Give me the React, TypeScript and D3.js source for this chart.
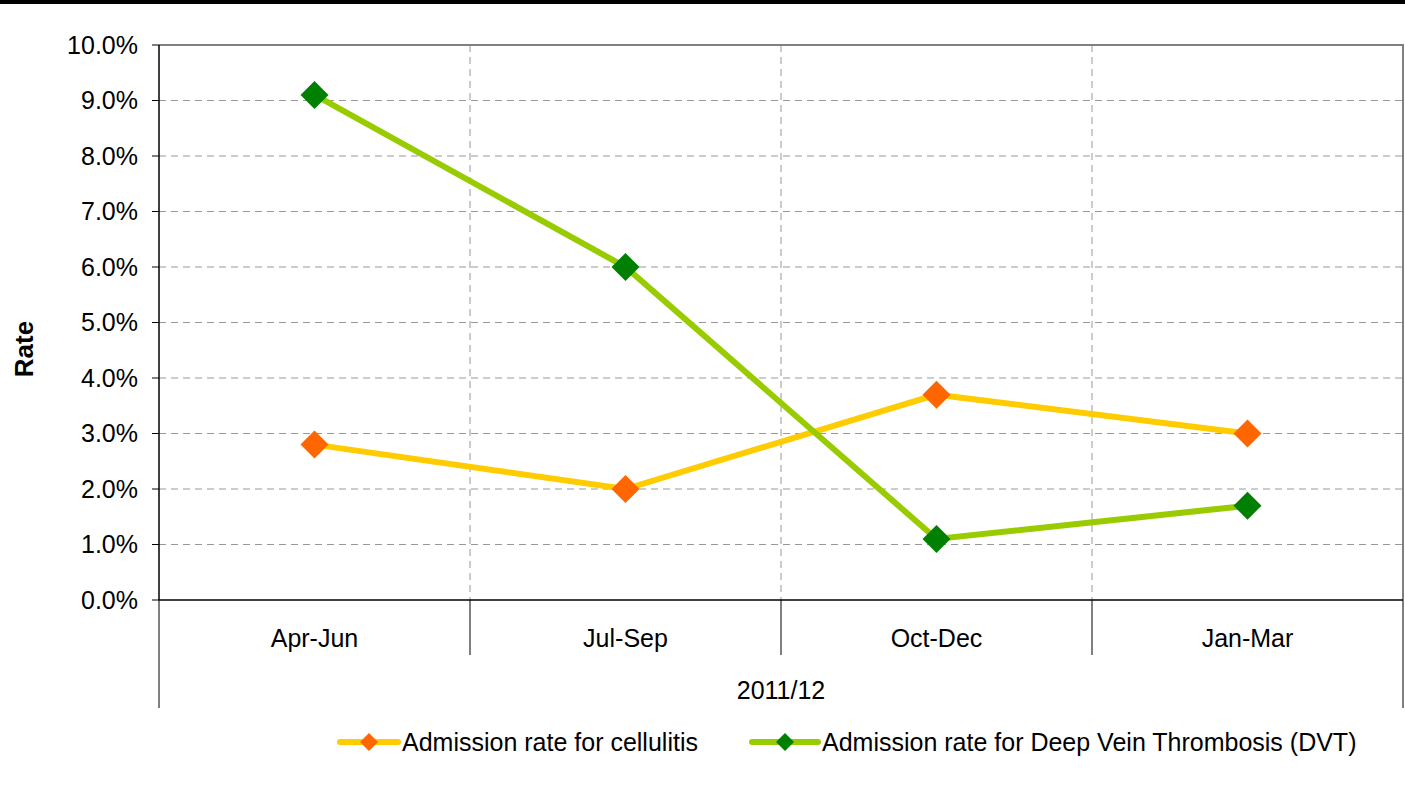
import { useEffect, useRef } from 'react';
import * as d3 from 'd3';

const categories = ['Apr-Jun', 'Jul-Sep', 'Oct-Dec', 'Jan-Mar'];
const groupLabel = '2011/12';
const cellulitis = [2.8, 2.0, 3.7, 3.0];
const dvt = [9.1, 6.0, 1.1, 1.7];
const yTicks = [0, 1, 2, 3, 4, 5, 6, 7, 8, 9, 10];

const series = [
  { name: 'Admission rate for cellulitis', values: cellulitis, line: '#FFCC00', marker: '#FF6600' },
  { name: 'Admission rate for Deep Vein Thrombosis (DVT)', values: dvt, line: '#99CC00', marker: '#008000' }
];

const App = () => {
  const ref = useRef<SVGSVGElement>(null);

  useEffect(() => {
    const svg = d3.select(ref.current);
    svg.selectAll('*').remove();

    const left = 159, right = 1403, top = 45, bottom = 600;
    const font = 'Arial, "Liberation Sans", sans-serif';
    const fs = 25;

    // top black strip
    svg.append('rect').attr('x', 0).attr('y', 0).attr('width', 1405).attr('height', 4).attr('fill', '#000');

    const x = d3.scaleBand().domain(categories).range([left, right]);
    const y = d3.scaleLinear().domain([0, 10]).range([bottom, top]);

    // horizontal grid
    svg.append('g').selectAll('line').data(yTicks.slice(1, -1)).join('line')
      .attr('x1', left).attr('x2', right)
      .attr('y1', d => y(d)).attr('y2', d => y(d))
      .attr('stroke', '#999').attr('stroke-dasharray', '7,5');

    // vertical grid at category boundaries
    svg.append('g').selectAll('line').data(categories.slice(1)).join('line')
      .attr('x1', d => x(d)!).attr('x2', d => x(d)!)
      .attr('y1', top).attr('y2', bottom)
      .attr('stroke', '#999').attr('stroke-dasharray', '7,5');

    // plot border (top & right gray)
    svg.append('path')
      .attr('d', `M${left},${top}H${right}V${bottom}`)
      .attr('fill', 'none').attr('stroke', '#808080').attr('stroke-width', 2);

    // y axis
    svg.append('line').attr('x1', left).attr('x2', left).attr('y1', top).attr('y2', bottom)
      .attr('stroke', '#000').attr('stroke-width', 1.5);
    svg.append('g').selectAll('line').data(yTicks).join('line')
      .attr('x1', left - 7).attr('x2', left)
      .attr('y1', d => y(d)).attr('y2', d => y(d))
      .attr('stroke', '#000');
    svg.append('g').selectAll('text').data(yTicks).join('text')
      .attr('x', left - 21).attr('y', d => y(d))
      .attr('dy', '0.35em').attr('text-anchor', 'end')
      .attr('font-family', font).attr('font-size', fs)
      .text(d => d.toFixed(1) + '%');

    svg.append('text')
      .attr('transform', `translate(33,${349}) rotate(-90)`)
      .attr('text-anchor', 'middle')
      .attr('font-family', font).attr('font-size', 26).attr('font-weight', 'bold')
      .text('Rate');

    // x axis
    svg.append('line').attr('x1', left).attr('x2', right).attr('y1', bottom).attr('y2', bottom)
      .attr('stroke', '#000').attr('stroke-width', 1.5);
    const bounds = [...categories.map(c => x(c)!), right];
    svg.append('g').selectAll('line').data(bounds).join('line')
      .attr('x1', d => d).attr('x2', d => d)
      .attr('y1', bottom)
      .attr('y2', (d, i) => (i === 0 || i === bounds.length - 1 ? 708 : 655))
      .attr('stroke', '#000');
    svg.append('g').selectAll('text').data(categories).join('text')
      .attr('x', d => x(d)! + x.bandwidth() / 2).attr('y', 638)
      .attr('dy', '0.35em')
      .attr('text-anchor', 'middle')
      .attr('font-family', font).attr('font-size', fs)
      .text(d => d);
    svg.append('text')
      .attr('x', (left + right) / 2).attr('y', 690)
      .attr('dy', '0.35em')
      .attr('text-anchor', 'middle')
      .attr('font-family', font).attr('font-size', fs)
      .text(groupLabel);

    const cx = (i: number) => x(categories[i])! + x.bandwidth() / 2;
    const diamond = (px: number, py: number, r: number) =>
      `M${px},${py - r}L${px + r},${py}L${px},${py + r}L${px - r},${py}Z`;

    series.forEach(s => {
      const line = d3.line<number>().x((_, i) => cx(i)).y(d => y(d));
      svg.append('path').datum(s.values)
        .attr('d', line).attr('fill', 'none')
        .attr('stroke', s.line).attr('stroke-width', 6);
      svg.append('g').selectAll('path').data(s.values).join('path')
        .attr('d', (d, i) => diamond(cx(i), y(d), 14))
        .attr('fill', s.marker);
    });

    // legend
    const legendPos = [{ x1: 340, x2: 398, tx: 402 }, { x1: 752, x2: 818, tx: 822 }];
    series.forEach((s, i) => {
      const p = legendPos[i];
      const ly = 742;
      svg.append('line').attr('x1', p.x1).attr('x2', p.x2).attr('y1', ly).attr('y2', ly)
        .attr('stroke', s.line).attr('stroke-width', 6).attr('stroke-linecap', 'round');
      svg.append('path').attr('d', diamond((p.x1 + p.x2) / 2, ly, 9)).attr('fill', s.marker);
      svg.append('text').attr('x', p.tx).attr('y', ly).attr('dy', '0.35em')
        .attr('font-family', font).attr('font-size', fs)
        .text(s.name);
    });
  }, []);

  return (
    <svg ref={ref} width={1405} height={787}
      style={{ position: 'absolute', left: 0, top: 0, background: '#fff' }} />
  );
};

export default App;
